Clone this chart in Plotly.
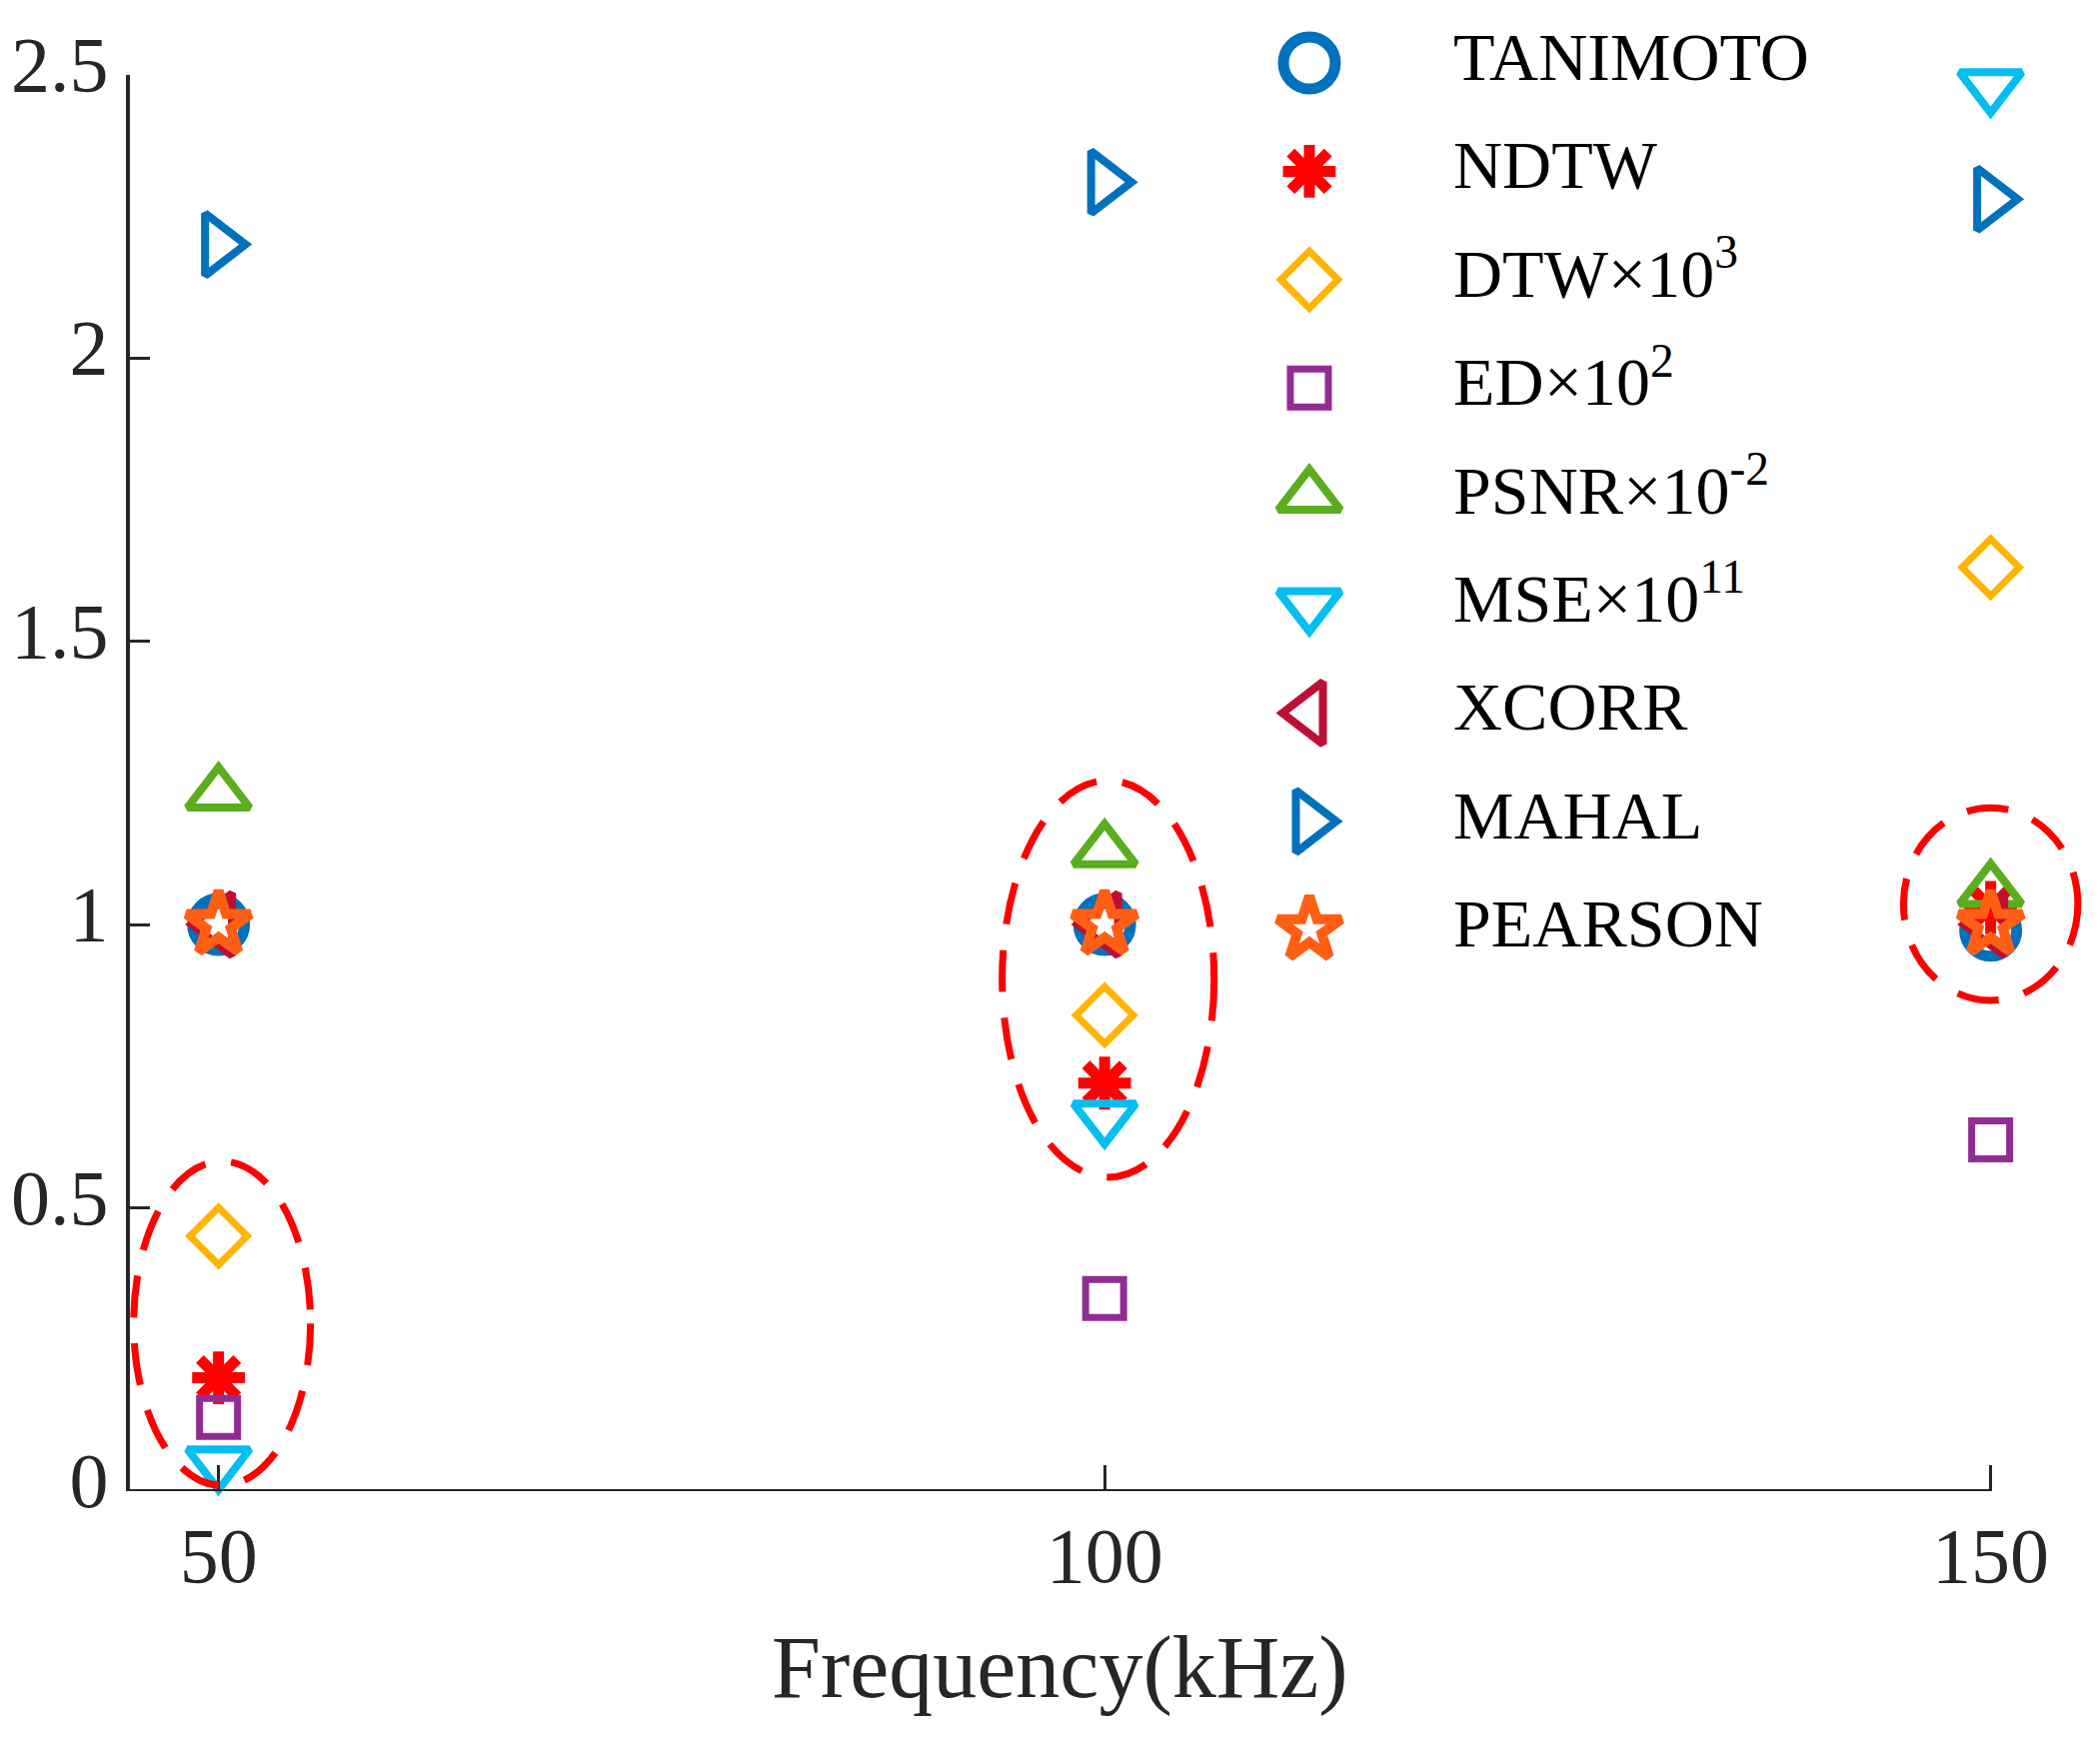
import plotly.graph_objects as go

# ---------------- data ----------------
freq = [50, 100, 150]
tanimoto = [1.00, 1.00, 0.99]
ndtw = [0.20, 0.72, 1.03]
dtw = [0.45, 0.84, 1.63]
ed = [0.13, 0.34, 0.62]
psnr = [1.23, 1.13, 1.06]
mse = [0.05, 0.66, 2.48]
xcorr = [1.00, 1.00, 1.00]
mahal = [2.20, 2.31, 2.28]
pearson = [1.00, 1.00, 1.00]

series_names = ["TANIMOTO", "NDTW", "DTW×10<sup>3</sup>", "ED×10<sup>2</sup>",
                "PSNR×10<sup>-2</sup>", "MSE×10<sup>11</sup>", "XCORR", "MAHAL", "PEARSON"]
series_values = [tanimoto, ndtw, dtw, ed, psnr, mse, xcorr, mahal, pearson]

x_ticks = [50, 100, 150]
y_ticks = [0, 0.5, 1, 1.5, 2, 2.5]
y_tick_labels = ["0", "0.5", "1", "1.5", "2", "2.5"]

# highlighted groups (dashed ellipses): centre x, centre y, half-width, half-height
ell_cx = [50.2, 100.2, 150.0]
ell_cy = [0.296, 0.904, 1.036]
ell_rx = [4.99, 5.98, 4.92]
ell_ry = [0.286, 0.350, 0.170]

# ---------------- styles ----------------
styles = [
    dict(symbol="circle-open", size=52, color="#0072BD", lw=11),
    dict(symbol="asterisk-open", size=44, color="#FF0000", lw=11),
    dict(symbol="diamond-open", size=44, color="#FFB400", lw=7),
    dict(symbol="square-open", size=38, color="#912D91", lw=7),
    dict(symbol="triangle-up-open", size=54, color="#5AAD1C", lw=8),
    dict(symbol="triangle-down-open", size=54, color="#05BEF0", lw=8),
    dict(symbol="triangle-left-open", size=54, color="#BE0F34", lw=8),
    dict(symbol="triangle-right-open", size=54, color="#0072BD", lw=8),
    dict(symbol="star-open", size=48, color="#FF5F14", lw=10),
]

FONT = "Liberation Serif"
W, H = 2101, 1741
ML, MR, MT, MB = 130, 3, 40, 249
plot_top_px = 74.5
x_range = [45, 156]
y_range = [0, 2.5]

fig = go.Figure()

for name, vals, st in zip(series_names, series_values, styles):
    fig.add_trace(go.Scatter(
        x=freq, y=vals, mode="markers", name=name, showlegend=False,
        cliponaxis=False,
        marker=dict(symbol=st["symbol"], size=st["size"], color=st["color"],
                    line=dict(color=st["color"], width=st["lw"])),
        xaxis="x", yaxis="y"))

# ---- manual legend drawn on an invisible helper axis ----
n = len(series_names)
idx = list(range(n))
for i, (name, st) in enumerate(zip(series_names, styles)):
    fig.add_trace(go.Scatter(
        x=[0], y=[i], mode="markers", showlegend=False, cliponaxis=False,
        marker=dict(symbol=st["symbol"], size=st["size"], color=st["color"],
                    line=dict(color=st["color"], width=st["lw"])),
        xaxis="x2", yaxis="y2"))
fig.add_trace(go.Scatter(
    x=[1] * n, y=idx, mode="text", text=series_names, textposition="middle right",
    textfont=dict(family=FONT, size=68, color="#000000"),
    showlegend=False, cliponaxis=False, xaxis="x2", yaxis="y2"))

# ellipses
for cx, cy, rx, ry in zip(ell_cx, ell_cy, ell_rx, ell_ry):
    fig.add_shape(type="circle", xref="x", yref="y",
                  x0=cx - rx, x1=cx + rx, y0=cy - ry, y1=cy + ry,
                  line=dict(color="#FF0000", width=7, dash="42px,26px"),
                  layer="above")

# x axis line only up to last tick
fig.add_shape(type="line", xref="x", yref="y", x0=x_range[0], x1=x_ticks[-1],
              y0=0, y1=0, line=dict(color="#262626", width=4), layer="above")

paper_h = H - MT - MB
y_dom_top = (H - MB - plot_top_px) / paper_h

# helper axis mapping for legend
leg_marker_px = 1310
leg_text_px = 1458
row0_px, row_step = 63, 108.4
pw = W - ML - MR
x2_dom = [(leg_marker_px - ML) / pw, (leg_text_px - 4 - ML) / pw]
y2_dom = [0.3, 1.0]
px_bot = MT + (1 - y2_dom[0]) * paper_h
px_top = MT
y2_range = [(px_bot - row0_px) / row_step, (px_top - row0_px) / row_step]

fig.update_layout(
    template="none",
    width=W, height=H, autosize=False,
    margin=dict(l=ML, r=MR, t=MT, b=MB, autoexpand=False),
    paper_bgcolor="white", plot_bgcolor="rgba(0,0,0,0)",
    font=dict(family=FONT, color="#262626"),
    xaxis=dict(range=x_range, domain=[0, 1], tickvals=x_ticks,
               ticktext=[str(v) for v in x_ticks],
               ticks="inside", ticklen=26, tickwidth=3, tickcolor="#262626",
               showline=False, showgrid=False, zeroline=False, automargin=False,
               ticklabelstandoff=12,
               tickfont=dict(family=FONT, size=78, color="#262626"),
               anchor="y"),
    yaxis=dict(range=y_range, domain=[0, y_dom_top], tickvals=y_ticks,
               ticktext=y_tick_labels,
               ticks="inside", ticklen=20, tickwidth=3, tickcolor="#262626",
               showline=True, linewidth=4, linecolor="#262626",
               showgrid=False, zeroline=False, automargin=False,
               ticklabelstandoff=2, ticklabelshift=-11,
               tickfont=dict(family=FONT, size=78, color="#262626"),
               anchor="x"),
    xaxis2=dict(range=[0, 1], domain=x2_dom, visible=False, anchor="y2",
                automargin=False),
    yaxis2=dict(range=y2_range, domain=y2_dom, visible=False, anchor="x2",
                automargin=False),
    showlegend=False,
)

fig.add_annotation(text="Frequency(kHz)", xref="x", yref="paper",
                   x=(x_range[0] + x_ticks[-1]) / 2, y=0, yanchor="middle",
                   yshift=-176, showarrow=False,
                   font=dict(family=FONT, size=88, color="#262626"))

fig.write_html("out.html", config={"displayModeBar": False},
               post_script="document.body.style.margin='0';document.body.style.overflow='hidden';")
